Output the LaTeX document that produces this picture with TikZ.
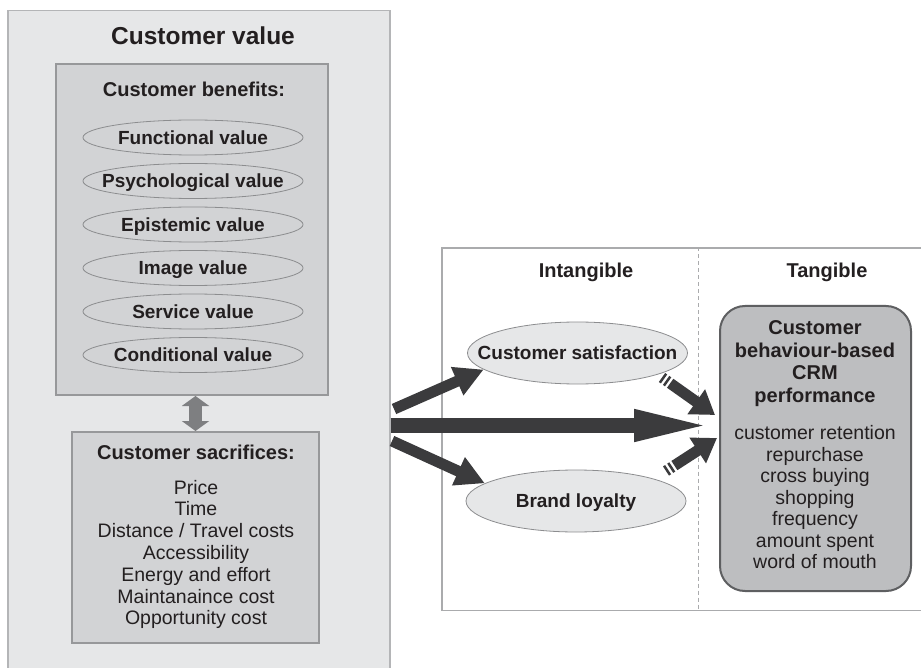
\documentclass[tikz,border=0pt]{standalone}
\usepackage{fontspec}
\setmainfont{Liberation Sans}
\usetikzlibrary{arrows.meta,shapes.geometric,calc}
\definecolor{txt}{HTML}{231F20}
\definecolor{outerfill}{HTML}{E6E7E8}
\definecolor{outerline}{HTML}{B4B5B7}
\definecolor{boxfill}{HTML}{D2D3D5}
\definecolor{boxline}{HTML}{97989A}
\definecolor{ellline}{HTML}{8C8D8F}
\definecolor{crmfill}{HTML}{BDBEC0}
\definecolor{crmline}{HTML}{5E5F61}
\definecolor{arr}{HTML}{3B3B3D}
\definecolor{dblarr}{HTML}{7E7F81}
\definecolor{rightline}{HTML}{AAABAD}
\newcommand\fsz[2]{\fontsize{#1}{#2}\selectfont}
\begin{document}
\begin{tikzpicture}[x=1pt,y=-1pt,
  every node/.style={text=txt},
  oneline/.style={inner sep=0pt,text depth=0pt},
  titlef/.style={oneline,font=\bfseries\fsz{24.5}{28},text height=17.5pt},
  headf/.style={oneline,font=\bfseries\fsz{20}{23},text height=14.3pt},
  ellf/.style={oneline,font=\bfseries\fsz{19}{22},text height=13.6pt},
  listf/.style={inner sep=0pt,align=center,font=\fsz{19.5}{21.8}},
  outerbox/.style={draw=outerline,fill=outerfill,line width=1.5pt,inner sep=0pt},
  graybox/.style={draw=boxline,fill=boxfill,line width=2pt,inner sep=0pt},
  benell/.style={ellipse,draw=ellline,fill=boxfill,line width=0.8pt,
    minimum width=220pt,minimum height=35pt,inner sep=0pt},
  bigell/.style={ellipse,draw=ellline,fill=outerfill,line width=0.8pt,
    minimum width=220pt,minimum height=62pt,inner sep=0pt},
  fat/.style={draw=arr,line cap=butt},
  dasharr/.style={fat,line width=11pt,dash pattern=on 2.5pt off 2.5pt on 2.5pt off 2.5pt on 300pt,
    -{Triangle[length=23pt,width=29pt]}},
]
\useasboundingbox (0,0) rectangle (921,668);
\clip (0,0) rectangle (921,668);
% right frame
\node[draw=rightline,fill=white,line width=1.5pt,minimum width=520pt,minimum height=362pt,
  inner sep=0pt,anchor=north west] (rf) at (441,247.5) {};
\coordinate (dtop) at (698.5,247.5);
\coordinate (dbot) at (698.5,609);
\draw[rightline,line width=1.2pt,dash pattern=on 4pt off 3pt] (dtop) -- (dbot);
\node[headf] (intang) at (586,270) {Intangible};
\node[headf] (tang) at (827,270) {Tangible};
% left outer box
\node[outerbox,minimum width=382pt,minimum height=700pt,anchor=north west] (cv) at (7,10) {};
\node[titlef] (cvtitle) at (203,36) {Customer value};
% benefits
\node[graybox,minimum width=272pt,minimum height=331pt] (benef) at (192,229.5) {};
\node[headf] (beneft) at (194,89) {Customer benefits:};
\node[benell,label={[ellf]center:Functional value}] (e1) at (193,137.5) {};
\node[benell,label={[ellf]center:Psychological value}] (e2) at (193,181) {};
\node[benell,label={[ellf]center:Epistemic value}] (e3) at (193,224.5) {};
\node[benell,label={[ellf]center:Image value}] (e4) at (193,268) {};
\node[benell,label={[ellf]center:Service value}] (e5) at (193,311.5) {};
\node[benell,label={[ellf]center:Conditional value}] (e6) at (193,355) {};
% sacrifices
\node[graybox,minimum width=247pt,minimum height=211pt] (sacr) at (195.5,537.5) {};
\node[headf] (sacrt) at (196,452) {Customer sacrifices:};
\node[listf,anchor=base] (sacrl) at (196,624.8) {Price\\Time\\Distance / Travel costs\\Accessibility\\Energy and effort\\Maintanaince cost\\Opportunity cost};
\draw[draw=dblarr,line width=13pt,{Triangle[length=10pt,width=27pt]}-{Triangle[length=10pt,width=27pt]}]
  (benef.south -| sacr.north) -- (sacr.north);
% CRM box
\node[draw=crmline,fill=crmfill,line width=2pt,rounded corners=25pt,minimum width=191pt,
  minimum height=285pt,inner sep=0pt] (crm) at (815.5,448.5) {};
\node[listf,font=\bfseries\fsz{20}{22.7},anchor=base] (crmt) at (815,402.6) {Customer\\behaviour-based\\CRM\\performance};
\node[listf,font=\fsz{19.5}{21.5},anchor=base] (crml) at (815,568.5) {customer retention\\repurchase\\cross buying\\shopping\\frequency\\amount spent\\word of mouth};
% intangible ellipses
\node[bigell,label={[ellf]center:Customer satisfaction}] (cs) at (577.5,353) {};
\node[bigell,label={[ellf]center:Brand loyalty}] (bl) at (576,501) {};
% arrows
\coordinate (tb) at (715,425.5);
\coordinate (t1) at (715,415);
\coordinate (t2) at (717,438);
\coordinate (ul) at (394,409);
\coordinate (ll) at (392,441);
\coordinate (s1) at (662,377.5);
\coordinate (s2) at (666,471);
\draw[fat,line width=15pt,-{Triangle[length=81pt,width=28pt]}] (cv.east |- tb) -- (tb);
\draw[fat,line width=11pt,-{Triangle[length=29pt,width=29pt]}] (ul) -- (cs.190);
\draw[fat,line width=11pt,-{Triangle[length=29pt,width=29pt]}] (ll) -- (bl.169);
\draw[dasharr] (s1) -- (t1);
\draw[dasharr] (s2) -- (t2);
\end{tikzpicture}
\end{document}
